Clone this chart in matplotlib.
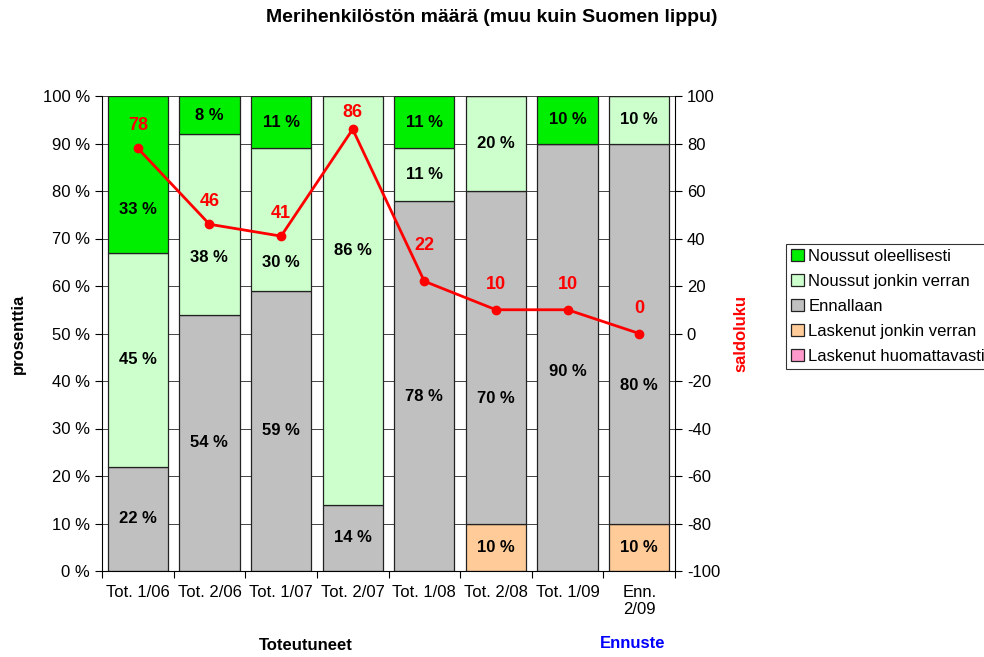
import matplotlib
matplotlib.use("Agg")
import matplotlib.pyplot as plt
import numpy as np

plt.rcParams['font.family'] = ['Liberation Sans', 'DejaVu Sans']
plt.rcParams['axes.unicode_minus'] = False

categories = ["Tot. 1/06", "Tot. 2/06", "Tot. 1/07", "Tot. 2/07", "Tot. 1/08", "Tot. 2/08", "Tot. 1/09", "Enn.\n2/09"]
laskenut_huom = [0, 0, 0, 0, 0, 0, 0, 0]
laskenut_jonkin = [0, 0, 0, 0, 0, 10, 0, 10]
ennallaan = [22, 54, 59, 14, 78, 70, 90, 80]
noussut_jonkin = [45, 38, 30, 86, 11, 20, 0, 10]
noussut_oleell = [33, 8, 11, 0, 11, 0, 10, 0]
saldo = [78, 46, 41, 86, 22, 10, 10, 0]

series = [
    ("Laskenut huomattavasti", laskenut_huom, "#FF99CC"),
    ("Laskenut jonkin verran", laskenut_jonkin, "#FFCC99"),
    ("Ennallaan", ennallaan, "#C0C0C0"),
    ("Noussut jonkin verran", noussut_jonkin, "#CCFFCC"),
    ("Noussut oleellisesti", noussut_oleell, "#00EE00"),
]

# manual label nudges (percentage points) as in the original chart
label_shift = {("Noussut oleellisesti", 0): -7.5, ("Noussut jonkin verran", 1): -7,
               ("Noussut jonkin verran", 2): -9, ("Noussut jonkin verran", 3): 10.5,
               ("Ennallaan", 4): -2.2, ("Ennallaan", 5): -8.6, ("Ennallaan", 6): -3,
               ("Ennallaan", 7): -11}
# saldo label distance above point, in pixels
saldo_off_px = [23, 23, 23, 17, 36, 25, 25, 25]

FS = 12
fig = plt.figure(figsize=(9.84, 6.57), dpi=100)
ax = fig.add_axes([102/984, 1-571/657, (675-102)/984, (571-96)/657])
x = np.arange(len(categories))
bottom = np.zeros(len(categories))
handles = []
ax.set_axisbelow(True)
ax.yaxis.grid(True, color="#444444", linewidth=0.7)
for name, vals, col in series:
    vals = np.array(vals, dtype=float)
    b = ax.bar(x, vals, bottom=bottom, width=0.84, color=col, edgecolor="#222222", linewidth=0.9, label=name, zorder=2)
    handles.append(b)
    for i, (xi, v, bt) in enumerate(zip(x, vals, bottom)):
        if v > 0:
            y = bt + v/2 + label_shift.get((name, i), 0)
            ax.text(xi, y, f"{int(v)} %", ha="center", va="center", fontsize=FS, fontweight="bold",
                    color="black", zorder=3)
    bottom += vals

ax.set_xlim(-0.5, len(categories)-0.5)
ax.set_ylim(0, 100)
ax.set_yticks(np.arange(0, 101, 10))
ax.set_yticklabels([f"{v} %" for v in range(0, 101, 10)], fontsize=FS)
ax.set_xticks(np.arange(-0.5, len(categories), 1.0))
ax.set_xticklabels([])
ax.set_xticks(x, minor=True)
ax.set_xticklabels(categories, minor=True, fontsize=FS)
ax.tick_params(axis='x', which='minor', length=0, pad=10)
ax.tick_params(axis='x', which='major', length=5, direction='out')
ax.tick_params(axis='y', length=5, direction='out')
for s in ["top", "right"]:
    ax.spines[s].set_visible(False)
ax.set_ylabel("prosenttia", fontsize=FS, fontweight="bold", labelpad=12)

ax2 = ax.twinx()
ax2.set_ylim(-100, 100)
ax2.set_yticks(np.arange(-100, 101, 20))
ax2.tick_params(axis='y', labelsize=FS, length=5, direction='out')
ax2.spines["top"].set_visible(False)
ax2.spines["left"].set_visible(False)
ax2.spines["bottom"].set_visible(False)
ax2.plot(x, saldo, color="#FF0000", linewidth=2, marker="o", markersize=6, zorder=4)
for i, (xi, v) in enumerate(zip(x, saldo)):
    ax2.annotate(str(v), (xi, v), xytext=(0, saldo_off_px[i]*0.72), textcoords="offset points",
                 ha="center", va="center", fontsize=13, fontweight="bold", color="#FF0000")
ax2.set_ylabel("saldoluku", fontsize=FS, fontweight="bold", color="#FF0000", labelpad=10)

fig.text(0.5, 1-17/657, "Merihenkilöstön määrä (muu kuin Suomen lippu)", ha="center", va="center",
         fontsize=14, fontweight="bold")
fig.text(306/984, 1-645/657, "Toteutuneet", ha="center", va="center", fontsize=FS, fontweight="bold")
fig.text(633/984, 1-644/657, "Ennuste", ha="center", va="center", fontsize=FS, fontweight="bold", color="#0000FF")

leg = fig.legend(handles[::-1], [s[0] for s in series][::-1], loc="upper left",
                 bbox_to_anchor=(786/984, 1-244/657), fontsize=FS, frameon=True, fancybox=False,
                 handlelength=0.75, handleheight=0.75, handletextpad=0.3, borderpad=0.3, labelspacing=0.6,
                 borderaxespad=0)
leg.get_frame().set_edgecolor("black")
leg.get_frame().set_linewidth(0.8)

fig.savefig("out.png", dpi=100)
